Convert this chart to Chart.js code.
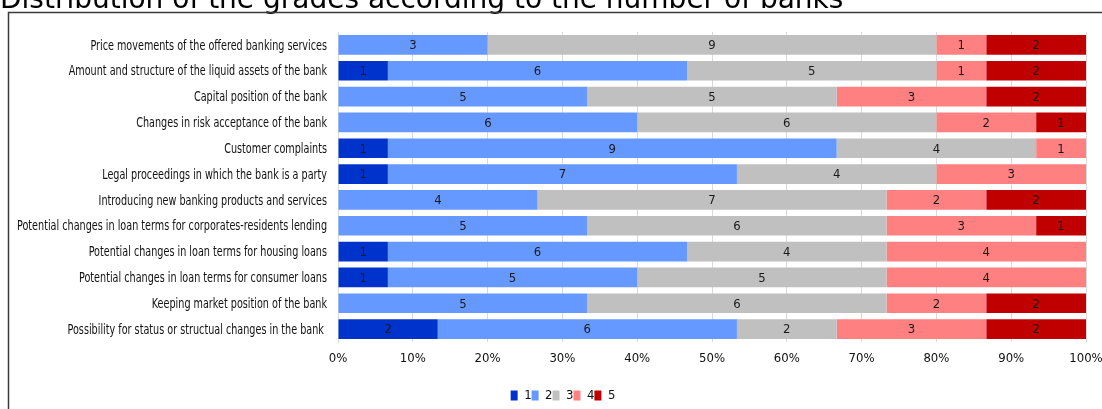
<!DOCTYPE html>
<html>
<head>
<meta charset="utf-8">
<script src="https://cdn.jsdelivr.net/npm/chart.js@4/dist/chart.umd.min.js"></script>
<style>
  html, body { margin: 0; padding: 0; background: #fff; }
  #wrap { width: 1102px; height: 409px; position: relative; }
</style>
</head>
<body>
<div id="wrap"><canvas id="grades"></canvas></div>
<script>
const TITLE = "Distribution of the grades according to the number of banks";
const NARROW = "'DejaVu Sans Condensed', 'Liberation Sans', sans-serif";

const categories = [
  "Price movements of the offered banking services",
  "Amount and structure of the liquid assets of the bank",
  "Capital position of the bank",
  "Changes in risk acceptance of the bank",
  "Customer complaints",
  "Legal proceedings in which the bank is a party",
  "Introducing new banking products and services",
  "Potential changes in loan terms for corporates-residents lending",
  "Potential changes in loan terms for housing loans",
  "Potential changes in loan terms for consumer loans",
  "Keeping market position of the bank",
  "Possibility for status or structual changes in the bank "
];

// number of banks giving each grade
const grade1 = [0, 1, 0, 0, 1, 1, 0, 0, 1, 1, 0, 2];
const grade2 = [3, 6, 5, 6, 9, 7, 4, 5, 6, 5, 5, 6];
const grade3 = [9, 5, 5, 6, 4, 4, 7, 6, 4, 5, 6, 2];
const grade4 = [1, 1, 3, 2, 1, 3, 2, 3, 4, 4, 2, 3];
const grade5 = [2, 2, 2, 1, 0, 0, 2, 1, 0, 0, 2, 2];

const gradeNames = ["1", "2", "3", "4", "5"];
const gradeColors = ["#0033cc", "#6699ff", "#c0c0c0", "#ff8080", "#c00000"];
const xTicks = [0, 10, 20, 30, 40, 50, 60, 70, 80, 90, 100];

const counts = [grade1, grade2, grade3, grade4, grade5];
const totals = categories.map((_, i) => counts.reduce((s, g) => s + g[i], 0));

const datasets = counts.map((g, k) => ({
  label: gradeNames[k],
  data: g.map((v, i) => v / totals[i] * 100),
  counts: g,
  backgroundColor: gradeColors[k],
  borderWidth: 0,
  barPercentage: 0.76,
  categoryPercentage: 1
}));

// outer frame and the clipped heading
const framePlugin = {
  id: "frame",
  beforeDraw(chart) {
    const c = chart.ctx;
    c.save();
    c.fillStyle = "#fff";
    c.fillRect(0, 0, chart.width, chart.height);
    c.fillStyle = "#000";
    c.font = "28px 'DejaVu Sans', sans-serif";
    c.textBaseline = "alphabetic";
    c.fillText(TITLE, 0, 8);
    c.strokeStyle = "#3a3a3a";
    c.lineWidth = 1.5;
    c.beginPath();
    c.moveTo(8.5, chart.height);
    c.lineTo(8.5, 12.5);
    c.lineTo(chart.width, 12.5);
    c.stroke();
    c.restore();
  },
  // legend sits a little right of the canvas centre and a bit lower
  afterLayout(chart) {
    const lg = chart.legend;
    lg.left += 20;
    lg.right += 20;
    lg.top += 3;
    lg.bottom += 3;
  }
};

// category names, squeezed horizontally like a narrow face
const catLabels = {
  id: "catLabels",
  afterDraw(chart) {
    const c = chart.ctx;
    const y = chart.scales.y;
    c.save();
    c.font = "14px " + NARROW;
    c.fillStyle = "#111";
    c.textAlign = "right";
    c.textBaseline = "middle";
    const widest = Math.max(...categories.map(t => c.measureText(t.trim()).width));
    const sx = 310 / widest;
    const right = y.right - 11;
    categories.forEach((t, i) => {
      c.save();
      c.translate(right, y.getPixelForTick(i) + 1);
      c.scale(sx, 1);
      c.fillText(t, 0, 0);
      c.restore();
    });
    c.restore();
  }
};

// count written in the middle of each segment
const countLabels = {
  id: "countLabels",
  afterDatasetsDraw(chart) {
    const c = chart.ctx;
    c.save();
    c.font = "13px " + NARROW;
    c.fillStyle = "#1a1a1a";
    c.textAlign = "center";
    c.textBaseline = "middle";
    chart.data.datasets.forEach((ds, k) => {
      chart.getDatasetMeta(k).data.forEach((bar, i) => {
        const n = ds.counts[i];
        if (!n) return;
        const x = (bar.x + bar.base) / 2;
        c.fillText(String(n), x, bar.y + 1);
      });
    });
    c.restore();
  }
};

new Chart(document.getElementById("grades"), {
  type: "bar",
  data: { labels: categories, datasets },
  plugins: [framePlugin, countLabels, catLabels],
  options: {
    indexAxis: "y",
    responsive: true,
    maintainAspectRatio: false,
    animation: false,
    layout: { padding: { left: 0, right: 16, top: 32, bottom: 0 } },
    scales: {
      x: {
        stacked: true,
        min: 0,
        max: 100,
        afterBuildTicks: s => { s.ticks = xTicks.map(v => ({ value: v })); },
        afterFit: s => { s.height = 44; s.paddingLeft = 0; s.paddingRight = 0; },
        grid: { color: "#d9d9d9", tickLength: 0, drawTicks: false },
        border: { display: false },
        ticks: {
          padding: 9,
          color: "#111",
          font: { family: NARROW, size: 13 },
          callback: v => v + "%"
        }
      },
      y: {
        stacked: true,
        afterFit: s => { s.width = 338; },
        grid: { display: false },
        border: { color: "#d9d9d9" },
        ticks: { display: false }
      }
    },
    plugins: {
      legend: {
        position: "bottom",
        labels: {
          boxWidth: 7,
          boxHeight: 10,
          padding: 0,
          color: "#111",
          font: { family: NARROW, size: 13 }
        }
      },
      tooltip: { enabled: false }
    }
  }
});
</script>
</body>
</html>
